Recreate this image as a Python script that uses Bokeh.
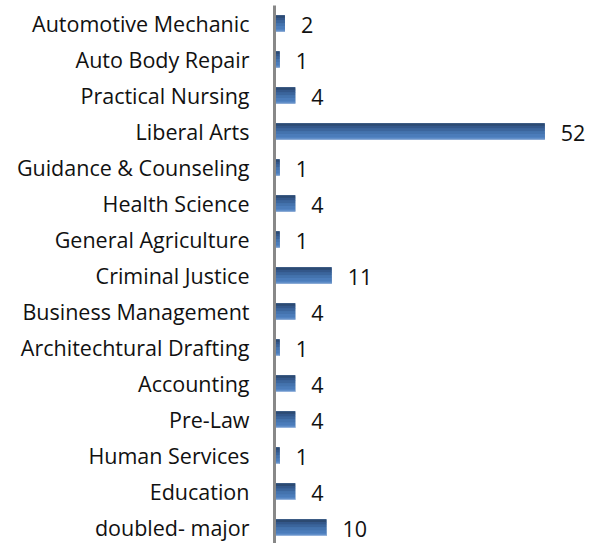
from bokeh.plotting import figure
from bokeh.models import Range1d, ColumnDataSource, FixedTicker
from bokeh.transform import dodge
from bokeh.core.properties import value
from bokeh.embed import file_html
from bokeh.resources import INLINE

categories = ["Automotive Mechanic", "Auto Body Repair", "Practical Nursing", "Liberal Arts",
              "Guidance & Counseling", "Health Science", "General Agriculture", "Criminal Justice",
              "Business Management", "Architechtural Drafting", "Accounting", "Pre-Law",
              "Human Services", "Education", "doubled- major"]
counts = [2, 1, 4, 52, 1, 4, 1, 11, 4, 1, 4, 4, 1, 4, 10]
positions = list(range(len(categories)))

src = ColumnDataSource(dict(y=positions, v=counts, lab=[str(c) for c in counts]))

p = figure(width=590, height=543, output_backend="svg", toolbar_location=None,
           x_range=Range1d(0, 60.8), y_range=Range1d(14.44, -0.5),
           min_border_left=274, min_border_right=0, min_border_top=5, min_border_bottom=0)
p.outline_line_color = None
p.grid.visible = False
p.xaxis.visible = False

ax = p.yaxis[0]
ax.ticker = FixedTicker(ticks=positions)
ax.major_label_overrides = {i: c for i, c in zip(positions, categories)}
ax.major_tick_line_color = None
ax.minor_tick_line_color = None
ax.major_tick_out = 0
ax.major_label_standoff = 25
ax.axis_line_color = "#888888"
ax.axis_line_width = 3
ax.major_label_text_font = "Open Sans"
ax.major_label_text_font_size = "21.5px"
ax.major_label_text_color = "#111111"

# gradient-like bars built from stacked strips
p.hbar(y="y", right="v", left=0, height=0.46, source=src, fill_color="#3f6ea8", line_color=None)
strips = [(-0.19, 0.08, "#2c4a72"), (-0.12, 0.08, "#33578a"), (-0.05, 0.08, "#3b659c"),
          (0.03, 0.08, "#4473ae"), (0.11, 0.08, "#4b7cba"), (0.18, 0.06, "#5283c2"),
          (0.215, 0.03, "#93b2dc")]
for off, h, col in strips:
    p.hbar(y=dodge("y", off, range=p.y_range), right="v", left=0, height=h, source=src,
           fill_color=col, line_color=None)

p.text(x="v", y="y", text="lab", source=src, x_offset=16, y_offset=1,
       text_font=value("Open Sans"), text_font_size="21.5px", text_color="#111111",
       text_align="left", text_baseline="middle")

open("out.html", "w").write(file_html(p, INLINE))
